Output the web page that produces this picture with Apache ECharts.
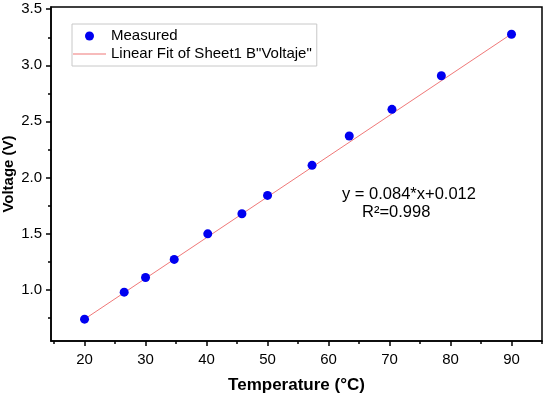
<!DOCTYPE html>
<html>
<head>
<meta charset="utf-8">
<script src="https://cdn.jsdelivr.net/npm/echarts@6/dist/echarts.min.js"></script>
<style>html,body{margin:0;padding:0;background:#fff}#c{width:550px;height:395px}</style>
</head>
<body>
<div id="c"></div>
<script>
// Data
var temps = [20, 26.5, 30, 34.7, 40.2, 45.8, 50, 57.3, 63.4, 70.4, 78.5, 90];
var volts = [0.735, 0.976, 1.107, 1.268, 1.496, 1.675, 1.839, 2.107, 2.369, 2.607, 2.907, 3.277];
var fitX = [20, 90];
var fitY = [0.735, 3.28];
var xMajor = [20, 30, 40, 50, 60, 70, 80, 90];
var xMinor = [15, 25, 35, 45, 55, 65, 75, 85, 95];
var yMajor = [1.0, 1.5, 2.0, 2.5, 3.0, 3.5];
var yMinor = [0.75, 1.25, 1.75, 2.25, 2.75, 3.25];
var eqText = 'y = 0.084*x+0.012';
var r2Text = 'R\u00B2=0.998';

var FONT = 'Arial, "Liberation Sans", sans-serif';
var chart = echarts.init(document.getElementById('c'));
var scatterData = temps.map(function (t, i) { return [t, volts[i]]; });
var fitData = fitX.map(function (t, i) { return [t, fitY[i]]; });

var xBase = {type: 'value', min: 14.5, max: 95, position: 'bottom', splitLine: {show: false}};
var yBase = {type: 'value', min: 0.54, max: 3.52, position: 'left', splitLine: {show: false}};

chart.setOption({
  backgroundColor: '#fff',
  animation: false,
  grid: {left: 51, right: 8, top: 7, bottom: 54, containLabel: false, outerBoundsMode: 'none',
    show: true, borderColor: '#000', borderWidth: 1.5, backgroundColor: 'transparent'},
  legend: {
    orient: 'vertical', left: 72, top: 24,
    padding: [4, 5, 4, 1], itemGap: 2,
    itemWidth: 33, itemHeight: 9,
    borderColor: '#c8c8c8', borderWidth: 1, backgroundColor: '#fff',
    textStyle: {fontFamily: FONT, fontSize: 15, color: '#000', lineHeight: 16},
    data: [
      {name: 'Measured', icon: 'circle'},
      {name: 'Linear Fit of Sheet1 B"Voltaje"', icon: 'path://M0,0 L33,0 L33,1 L0,1 Z'}
    ]
  },
  xAxis: [
    Object.assign({}, xBase, {
      name: 'Temperature (\u00B0C)', nameLocation: 'middle', nameGap: 36, nameMoveOverlap: false,
      nameTextStyle: {fontFamily: FONT, fontSize: 17, fontWeight: 'bold', color: '#000'},
      axisLine: {show: true, onZero: false, lineStyle: {color: '#000', width: 1.5}},
      axisTick: {show: true, inside: false, length: 5, customValues: xMajor, lineStyle: {color: '#000', width: 1.5}},
      axisLabel: {show: true, margin: 11, customValues: xMajor, fontFamily: FONT, fontSize: 15, color: '#000'}
    }),
    Object.assign({}, xBase, {
      axisLine: {show: false, onZero: false},
      axisTick: {show: true, inside: false, length: 3, customValues: xMinor, lineStyle: {color: '#000', width: 1.5}},
      axisLabel: {show: false}
    })
  ],
  yAxis: [
    Object.assign({}, yBase, {
      name: 'Voltage (V)', nameLocation: 'middle', nameGap: 35, nameMoveOverlap: false,
      nameTextStyle: {fontFamily: FONT, fontSize: 15, fontWeight: 'bold', color: '#000'},
      axisLine: {show: true, onZero: false, lineStyle: {color: '#000', width: 1.5}},
      axisTick: {show: true, inside: false, length: 5, customValues: yMajor, lineStyle: {color: '#000', width: 1.5}},
      axisLabel: {show: true, margin: 9, customValues: yMajor, fontFamily: FONT, fontSize: 15, color: '#000',
        formatter: function (v) { return v.toFixed(1); }}
    }),
    Object.assign({}, yBase, {
      axisLine: {show: false, onZero: false},
      axisTick: {show: true, inside: false, length: 3, customValues: yMinor, lineStyle: {color: '#000', width: 1.5}},
      axisLabel: {show: false}
    })
  ],
  series: [
    {
      name: 'Linear Fit of Sheet1 B"Voltaje"', type: 'line', xAxisIndex: 0, yAxisIndex: 0,
      data: fitData, symbol: 'none', showSymbol: false,
      lineStyle: {color: '#f07878', width: 1}, itemStyle: {color: '#f07878'}, z: 2
    },
    {
      name: 'Measured', type: 'scatter', xAxisIndex: 0, yAxisIndex: 0,
      data: scatterData, symbol: 'circle', symbolSize: 9,
      itemStyle: {color: '#0000f0', opacity: 1}, z: 3
    }
  ],
  graphic: [
    {type: 'text', x: 342, y: 194, style: {text: eqText, font: '16.5px ' + FONT, fill: '#000', verticalAlign: 'middle'}},
    {type: 'text', x: 362, y: 212.5, style: {text: r2Text, font: '16.5px ' + FONT, fill: '#000', verticalAlign: 'middle'}}
  ]
});
</script>
</body>
</html>
